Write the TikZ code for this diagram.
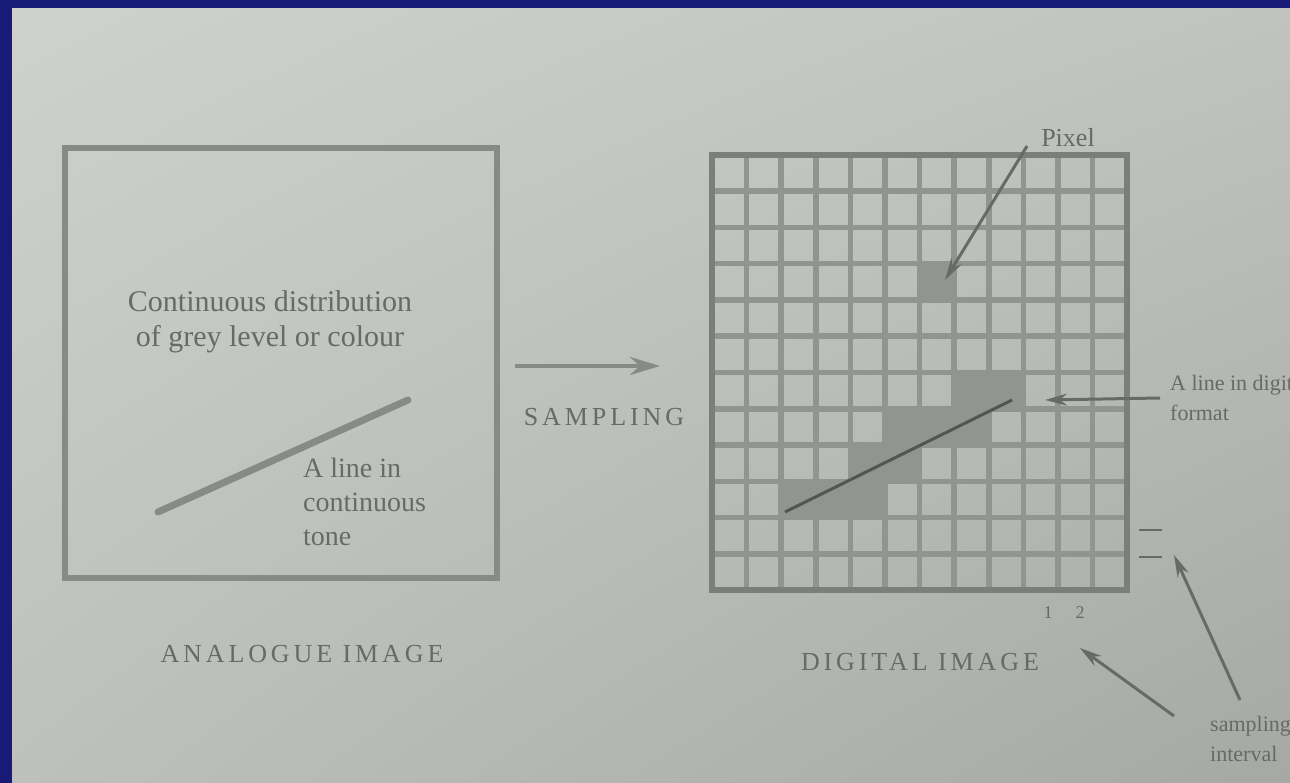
\documentclass[tikz,border=0pt]{standalone}
\usepackage{fontspec}
\setmainfont{Liberation Serif}
\usetikzlibrary{arrows.meta, positioning, shadings}

\definecolor{slideblue}{RGB}{24,26,120}
\definecolor{ink}{RGB}{104,106,103}
\definecolor{soft}{RGB}{136,138,134}
\definecolor{gridline}{RGB}{146,148,144}
\definecolor{pixfill}{RGB}{146,148,144}
\definecolor{paperUL}{RGB}{206,209,204}
\definecolor{paperUR}{RGB}{192,195,191}
\definecolor{paperLL}{RGB}{190,192,188}
\definecolor{paperLR}{RGB}{166,168,165}

\begin{document}
\begin{tikzpicture}[
  x=1pt, y=-1pt,
  txt/.style={text=ink, inner sep=0pt, font=\fontsize{28}{34}\selectfont},
  small/.style={text=ink, inner sep=0pt, align=left, font=\fontsize{22}{30}\selectfont},
  caps/.style={text=ink, inner sep=0pt,
    font=\fontsize{26}{30}\selectfont\addfontfeature{LetterSpace=15}},
  frame/.style={draw=soft, line width=6pt, inner sep=0pt,
    minimum width=432pt, minimum height=430pt},
  arr/.style={-{Stealth[length=30pt,width=18pt]}, line width=4.5pt, soft},
  ptr/.style={-{Stealth[length=22pt,width=12pt]}, line width=3pt, ink}
]
  \fill[slideblue] (0,0) rectangle (1290,783);
  \shade[upper left=paperUL, upper right=paperUR,
         lower left=paperLL, lower right=paperLR]
    (12,9) rectangle (1290,783);
  \useasboundingbox (0,0) rectangle (1290,783);
  \clip (0,0) rectangle (1290,783);

  % analogue side
  \node[frame] (analog) at (281,363) {};
  \node[txt, align=center, font=\fontsize{30}{35}\selectfont] (cont) at (270,322)
    {Continuous distribution\\of grey level or colour};
  \coordinate (la) at (158,512);
  \coordinate (lb) at (408,400);
  \draw[soft, line width=7pt, line cap=round] (la) -- (lb);
  \node[txt, align=left, anchor=north west] (ctone) at (303,458)
    {A line in\\continuous\\tone};
  \node[caps] (analogcap) at (302,654) {ANALOGUE IMAGE};

  % sampling
  \coordinate (s0) at (515,366);
  \coordinate (s1) at (660,366);
  \draw[arr] (s0) -- (s1);
  \node[caps] (samp) at (604,417) {SAMPLING};

  % digital side
  \foreach \c/\r in {2/9,3/9,4/9,4/8,5/8,5/7,6/7,7/7,7/6,8/6,6/3}
    \fill[pixfill] ({712+\c*34.6},{155+\r*36.25}) rectangle +(34.6,36.25);
  \foreach \i in {0,...,12}
    \draw[gridline, line width=5.5pt] ({712+\i*34.6},155) -- ({712+\i*34.6},590);
  \foreach \j in {0,...,12}
    \draw[gridline, line width=5.5pt] (712,{155+\j*36.25}) -- (1127,{155+\j*36.25});
  \draw[gridline!85!black, line width=5.5pt] (712,155) rectangle (1127,590);
  \coordinate (dl0) at (785,512);
  \coordinate (dl1) at (1012,400);
  \draw[ink!80!black, line width=3pt] (dl0) -- (dl1);
  \node[caps] (digicap) at (920,662) {DIGITAL IMAGE};

  \node[txt, font=\fontsize{26}{30}\selectfont] (pixel) at (1068,138) {Pixel};
  \coordinate (pxc) at (945,280);
  \draw[ptr] ([xshift=-14pt,yshift=-8pt]pixel.west) -- (pxc);

  \node[small, anchor=west] (dline) at (1170,398) {A line in digital\\format};
  \coordinate (dlend) at (1045,400);
  \draw[ptr] ([xshift=-10pt]dline.west) -- (dlend);

  % sampling interval marks
  \draw[ink, line width=2pt] (1139,530) -- (1162,530);
  \draw[ink, line width=2pt] (1139,557) -- (1162,557);
  \node[txt, font=\fontsize{18}{20}\selectfont] (one) at (1048,613) {1};
  \node[txt, font=\fontsize{18}{20}\selectfont] (two) at (1080,613) {2};

  \node[small, anchor=north west] (sint) at (1210,716) {sampling\\interval};
  \coordinate (iv1) at (1174,555);
  \coordinate (iv2) at (1080,648);
  \draw[ptr] ([shift={(30,-16)}]sint.north west) -- (iv1);
  \draw[ptr] ([xshift=-36pt]sint.north west) -- (iv2);
\end{tikzpicture}
\end{document}
